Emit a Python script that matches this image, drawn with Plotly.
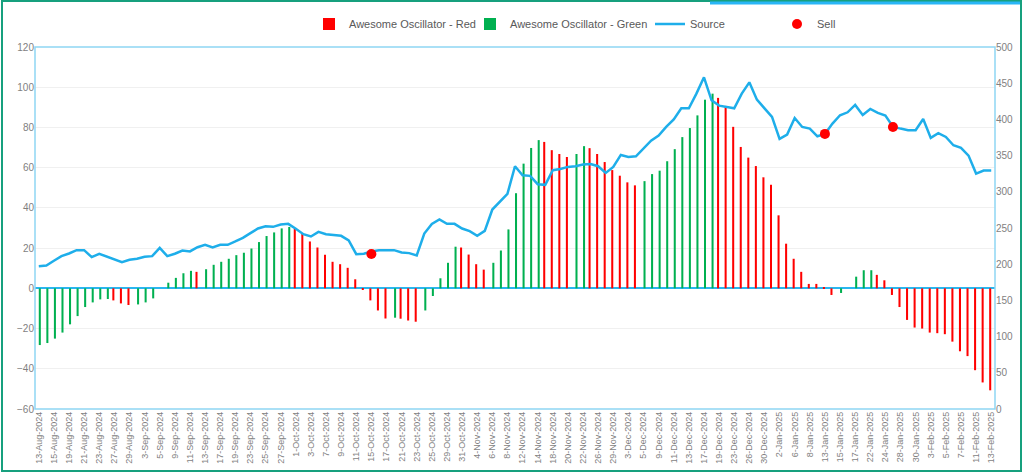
import pandas as pd
import plotly.graph_objects as go

# ---- categories (trading days) ----
holidays = ["2024-09-02", "2024-11-28", "2024-12-25", "2025-01-01", "2025-01-09", "2025-01-20"]
days = [d for d in pd.bdate_range("2024-08-13", "2025-02-13") if d.strftime("%Y-%m-%d") not in holidays]
dates = [f"{d.day}-{d.strftime('%b')}-{d.year}" for d in days]

# ---- Awesome Oscillator values (one per day) and colour flag ----
ao = [-28.2, -27.2, -25, -22, -17.9, -13.8, -9.3, -7, -5.5, -5.3,
      -6, -7.5, -8.3, -8, -7, -5, 0, 2.8, 5.2, 7.5,
      8.7, 8.2, 9.5, 11.7, 13.2, 14.7, 16.5, 17.7, 19.8, 23,
      26, 27.8, 29.8, 30.5, 29.7, 27, 23.3, 20.3, 16.7, 13.2,
      12, 10.2, 4.5, -0.7, -6, -11, -15, -14.6, -15.1, -16,
      -16.6, -11, -3.8, 5, 12.7, 20.7, 20.3, 16.8, 12, 9.3,
      12.7, 18.8, 29.3, 47.3, 62, 69.8, 73.7, 72.8, 68.7, 66.8,
      65.3, 66.8, 70.7, 69.7, 66.8, 62.8, 58.8, 56, 52.7, 51.2,
      53.3, 56.8, 58.5, 63.2, 69.2, 75.2, 79.7, 86, 93.8, 96.8,
      94.7, 90.7, 80.3, 70.3, 65, 60.8, 55.2, 51.5, 36.3, 22.2,
      14.7, 8.2, 2.2, 2.2, 0.3, -3.3, -2.3, 0, 5.8, 9,
      9, 6.7, 4, -3.3, -9.3, -15.7, -19.5, -20, -22, -22.3,
      -22.8, -26.5, -31.3, -33.7, -40.7, -46.8, -50.7]
# "G" = green bar, "R" = red bar
ao_color = list(
    "GGGGGGGGGG" "RRRGGGGGGG" "GRGGGGGGGG" "GGGGRRRRRR" "RRRRRRRGRR"
    "RGGGGGRRRR" "GGGGGGGRRR" "RGGRRRRRRR" "GGGGGGGGGG" "RRRRRRRRRR"
    "RRRRRRGGGG" "GRRRRRRRRR" "RRRRRRR")

# ---- Source values (right axis) ----
source = [197.3, 198.2, 204.7, 211.1, 214.8, 219.4, 219.4, 209.8, 214.4, 210.7,
          206.5, 202.9, 206.1, 207.5, 210.2, 211.1, 222.6, 211.1, 214.4, 218.9,
          217.6, 223.5, 226.8, 223.1, 226.8, 226.8, 231.4, 236.4, 242.9, 249.3,
          252.5, 251.6, 254.8, 255.7, 248.9, 241.5, 238.3, 244.7, 241.5, 240.1,
          239.2, 233.0, 213.9, 214.5, 217.6, 219.4, 218.9, 219.4, 216.2, 215.3,
          212.1, 242.4, 255.7, 261.7, 255.7, 255.7, 249.3, 245.6, 239.2, 246.1,
          275.5, 285.6, 297.1, 335.3, 322.9, 322.0, 310.5, 309.6, 329.8, 331.6,
          334.4, 335.3, 337.6, 338.5, 335.3, 326.1, 334.4, 350.9, 348.2, 349.1,
          359.7, 370.7, 377.6, 389.6, 400.0, 415.4, 415.4, 435.6, 458.1, 426.4,
          419.0, 417.2, 415.4, 435.6, 451.2, 427.3, 415.4, 403.4, 373.0, 379.0,
          402.0, 389.6, 387.3, 376.7, 380.0, 394.2, 405.7, 409.8, 420.0, 406.2,
          414.4, 408.9, 405.2, 390.0, 387.3, 385.0, 385.0, 400.6, 374.4, 380.9,
          375.8, 364.3, 360.6, 350.0, 325.2, 329.3, 329.3]

sell_dates = ["15-Oct-2024", "13-Jan-2025", "27-Jan-2025"]
sell_values = [214.0, 380.0, 389.5]

red_vals = [v if c == "R" else None for v, c in zip(ao, ao_color)]
green_vals = [v if c == "G" else None for v, c in zip(ao, ao_color)]

FONT = "Liberation Sans Narrow, Arial Narrow, Liberation Sans, Arial, sans-serif"

L, R, T, B = 35, 29, 47, 65
W, H = 1024, 474
pw, ph = W - L - R, H - T - B


def px_x(x):
    return (x - L) / pw


def px_y(y):
    return (H - B - y) / ph


fig = go.Figure()
fig.add_trace(go.Bar(x=dates, y=red_vals, name="Awesome Oscillator - Red", legend="legend",
                     marker=dict(color="#ff0000", line=dict(width=0))))
fig.add_trace(go.Bar(x=dates, y=green_vals, name="Awesome Oscillator - Green", legend="legend2",
                     marker=dict(color="#00b050", line=dict(width=0))))
fig.add_trace(go.Scatter(x=dates, y=source, name="Source", mode="lines", legend="legend3",
                         line=dict(color="#1eaeea", width=2.5), yaxis="y2"))
fig.add_trace(go.Scatter(x=sell_dates, y=sell_values, name="Sell", mode="markers", legend="legend4",
                         marker=dict(color="#ff0000", size=10), yaxis="y2"))

tickvals = dates[::2]


def leg(text_start):
    return dict(orientation="h", x=px_x(text_start - 41), y=px_y(24), xanchor="left", yanchor="middle",
                font=dict(size=11, color="#595959", family=FONT), bgcolor="rgba(0,0,0,0)",
                borderwidth=0, itemwidth=30)


fig.update_layout(
    width=W, height=H,
    margin=dict(l=L, r=R, t=T, b=B, pad=0, autoexpand=False),
    paper_bgcolor="white", plot_bgcolor="white",
    font=dict(family=FONT, color="#7f7f7f", size=10),
    barmode="group", bargap=0.46, bargroupgap=0.0,
    showlegend=True,
    legend=leg(350), legend2=leg(511), legend3=leg(691), legend4=leg(818),
    xaxis=dict(type="category", tickmode="array", tickvals=tickvals, ticktext=tickvals,
               tickangle=-90, tickfont=dict(size=9, color="#7f7f7f"), automargin=False,
               showgrid=False, showline=False, ticks="", range=[-0.5, len(dates) - 0.5]),
    yaxis=dict(range=[-60, 120], dtick=20, showgrid=True, gridcolor="#f0f0f0", gridwidth=1,
               zeroline=True, zerolinecolor="#29b6ef", zerolinewidth=2, automargin=False,
               tickfont=dict(size=10, color="#7f7f7f"), ticks="", showline=False),
    yaxis2=dict(range=[0, 500], dtick=50, overlaying="y", side="right", showgrid=False,
                zeroline=False, tickfont=dict(size=10, color="#7f7f7f"), ticks="",
                showline=False, automargin=False),
    shapes=[
        dict(type="rect", xref="paper", yref="paper", x0=0, x1=1, y0=0, y1=1,
             line=dict(color="#8fd6f4", width=1.5), layer="above"),
        dict(type="rect", xref="paper", yref="paper", x0=px_x(2), x1=px_x(1021),
             y0=px_y(471), y1=px_y(1), line=dict(color="#17a07e", width=2)),
        dict(type="line", xref="paper", yref="paper", x0=px_x(710), x1=px_x(1020),
             y0=px_y(3), y1=px_y(3), line=dict(color="#29b6f6", width=3)),
    ],
)

fig.write_html("out.html", config={"displayModeBar": False},
               post_script="document.body.style.margin='0';document.body.style.padding='0';")
